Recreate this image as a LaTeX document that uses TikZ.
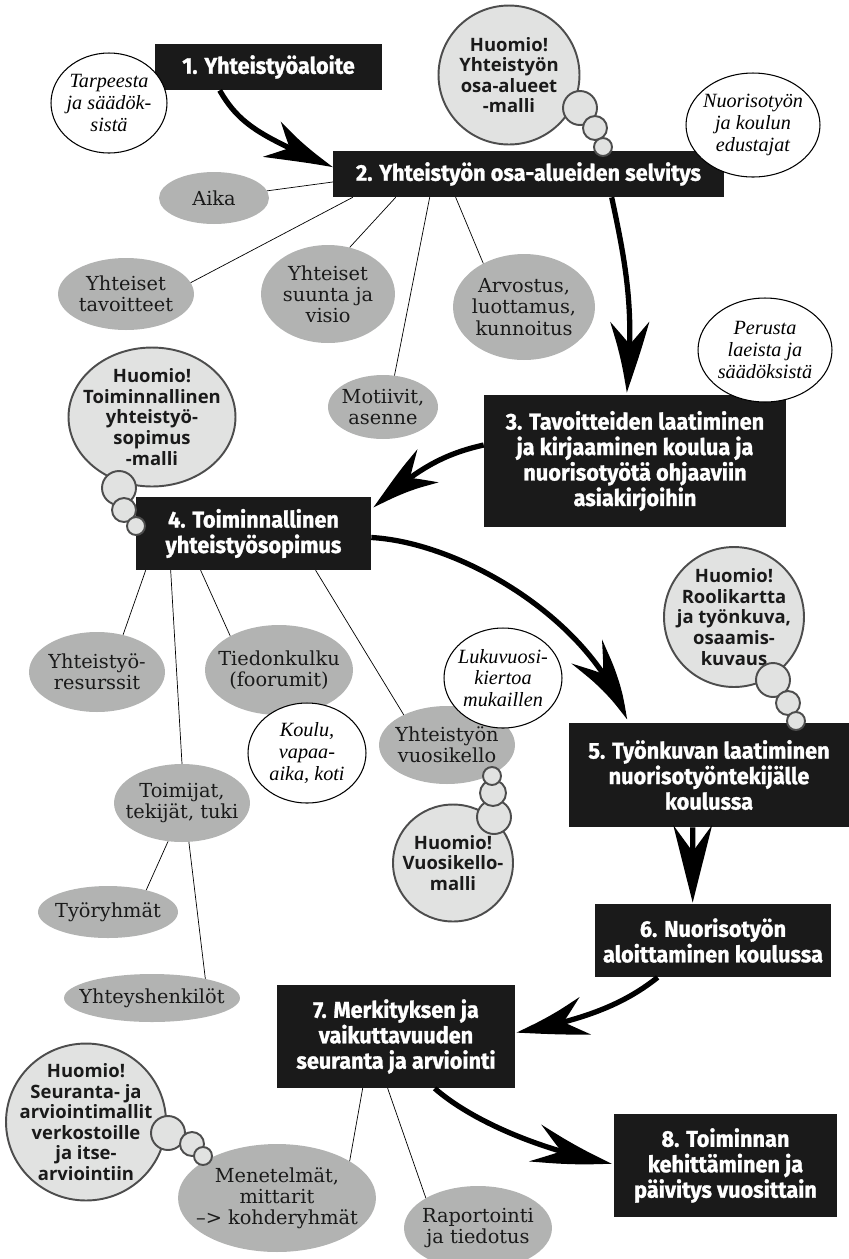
\documentclass[tikz,border=0pt]{standalone}
\usepackage{fontspec}
\setmainfont{DejaVu Serif}
\newfontfamily\boxfont{Fira Sans}[FakeStretch=0.95,FakeBold=1.2]
\newfontfamily\notefont{Liberation Serif}
\newfontfamily\huofont{Open Sans}
\usetikzlibrary{shapes.geometric,arrows.meta,bending,calc}
\definecolor{boxblack}{HTML}{1A1A1A}
\definecolor{ovalgrey}{HTML}{B2B3B2}
\definecolor{huofill}{HTML}{E1E2E1}
\definecolor{huoline}{HTML}{4D4D4D}
\begin{document}
\begin{tikzpicture}[x=0.02cm,y=-0.02cm,line join=round,line cap=round]
\tikzset{vaihe/.style={fill=boxblack,text=white,align=center,inner sep=0pt,font=\boxfont\bfseries\fontsize{13}{14.5}\selectfont},
	osa/.style={ellipse,fill=ovalgrey,text=boxblack,align=center,inner sep=-25pt,font=\fontsize{11}{12}\selectfont},
	huom/.style={ellipse,draw=black,line width=0.6pt,fill=white,align=center,inner sep=-25pt,font=\notefont\itshape\fontsize{11.5}{12.3}\selectfont},
	ajatus/.style={ellipse,draw=huoline,line width=1.1pt,fill=huofill,text=boxblack,align=center,inner sep=-25pt,font=\huofont\bfseries\fontsize{10.5}{11.7}\selectfont},
	pallo/.style={circle,draw=huoline,line width=1.1pt,fill=huofill,inner sep=0pt},
	nuoli/.style={line width=3pt,line cap=butt,-{Stealth[length=44pt,width=22pt,inset=15pt,bend]}}}
\useasboundingbox (0,0) rectangle (849,1259);
\node[vaihe,minimum width=4.54cm,minimum height=0.92cm] (v1) at (268.5,67) {1. Yhteistyöaloite};
\node[vaihe,minimum width=7.82cm,minimum height=0.92cm] (v2) at (528.5,174) {2. Yhteistyön osa-alueiden selvitys};
\node[vaihe,minimum width=6.04cm,minimum height=2.64cm] (v3) at (635,461) {3. Tavoitteiden laatiminen\\ja kirjaaminen koulua ja\\nuorisotyötä ohjaaviin\\asiakirjoihin};
\node[vaihe,minimum width=4.70cm,minimum height=1.46cm] (v4) at (253.5,533.5) {4. Toiminnallinen\\yhteistyösopimus};
\node[vaihe,minimum width=5.60cm,minimum height=2.08cm] (v5) at (709,775) {5. Työnkuvan laatiminen\\nuorisotyöntekijälle\\koulussa};
\node[vaihe,minimum width=4.72cm,minimum height=1.46cm] (v6) at (713,940.5) {6. Nuorisotyön\\aloittaminen koulussa};
\node[vaihe,minimum width=4.76cm,minimum height=2.06cm] (v7) at (396,1036.5) {7. Merkityksen ja\\vaikuttavuuden\\seuranta ja arviointi};
\node[vaihe,minimum width=4.46cm,minimum height=2.06cm] (v8) at (725.5,1165.5) {8. Toiminnan\\kehittäminen ja\\päivitys vuosittain};
\foreach \n/\x/\y/\w/\h/\t in {aika/214/198/2.2/1.04/Aika,tav/126/294/2.72/1.44/{Yhteiset\\tavoitteet},
	suunta/328/294/2.68/1.96/{Yhteiset\\suunta ja\\visio},arv/524/307/2.84/2.12/{Arvostus,\\luottamus,\\kunnoitus},
	mot/383/407/2.2/1.28/{Motiivit,\\asenne},res/97/672/2.72/1.6/{Yhteistyö-\\resurssit},
	tied/279/670/2.96/1.8/{Tiedonkulku\\(foorumit)},toim/182/803/2.72/1.56/{Toimijat,\\tekijät, tuki},
	tyo/108/912/2.8/1.04/Työryhmät,yht/152/998/3.52/0.96/Yhteyshenkilöt,
	kello/447/745/2.72/1.56/{Yhteistyön\\vuosikello},men/277/1198/3.96/2.16/{Menetelmät,\\mittarit\\–> kohderyhmät},
	rap/478/1228/2.96/1.68/{Raportointi\\ja tiedotus}}
\node[osa,minimum width=\w cm,minimum height=\h cm] (\n) at (\x,\y) {\t};
\foreach \n/\x/\y/\w/\h/\t in {tarve/109/103/2.32/2.0/{Tarpeesta\\ja säädök-\\sistä},edus/753/125/2.68/2.08/{Nuorisotyön\\ja koulun\\edustajat},
	peru/765/350/2.68/2.08/{Perusta\\laeista ja\\säädöksistä},koulu/307/753/2.36/2.0/{Koulu,\\vapaa-\\aika, koti},
	luku/503/678/2.36/2.0/{Lukuvuosi-\\kiertoa\\mukaillen}}
\node[huom,minimum width=\w cm,minimum height=\h cm] (\n) at (\x,\y) {\t};
\draw (v2.west) ++(0,8) -- (aika);
\draw (v2.south west) ++(20,0) -- (tav.10);
\draw (v2.south west) ++(63,0) -- (suunta.65);
\draw (v2.south west) ++(97,0) -- (mot.70);
\draw (v2.south west) ++(123,0) -- (arv.133);
\draw (v4.south west) ++(10,0) -- (res.55);
\draw (v4.south west) ++(35,0) -- (toim.north);
\draw (v4.south west) ++(65,0) -- (tied.145);
\draw (v4.south west) ++(180,0) -- (kello.145);
\draw (toim.250) -- (tyo.30);
\draw (toim.280) -- (yht.20);
\draw (v7.south west) ++(86,0) -- (men.27);
\draw (v7.south west) ++(111,0) -- (rap.150);
\draw[nuoli] ($(v1.south west)+(65,0)$) .. controls +(20,35) and +(-70,-30) .. ($(v2.west)+(0,-7)$);
\draw[nuoli] ($(v2.south west)+(279,0)$) .. controls +(15,70) and +(8,-80) .. ($(v3.north west)+(143,-2)$);
\draw[nuoli] ($(v3.west)+(0,-16)$) .. controls +(-45,10) and +(40,-35) .. ($(v4.north east)+(2,11)$);
\draw[nuoli] ($(v4.east)+(0,4)$) .. controls +(90,5) and +(-35,-100) .. ($(v5.north west)+(58,-3)$);
\draw[nuoli] ($(v5.south west)+(124,0)$) -- ($(v6.north west)+(98,-1)$);
\draw[nuoli] ($(v6.south west)+(63,0)$) .. controls +(-35,28) and +(65,-12) .. ($(v7.east)+(1,-4)$);
\draw[nuoli] ($(v7.south west)+(158,0)$) .. controls +(40,35) and +(-65,-12) .. ($(v8.west)+(-2,-2)$);
\node[ajatus,minimum width=2.82cm,minimum height=2.78cm] (h1) at (509,75) {Huomio!\\Yhteistyön\\osa-alueet\\-malli};
\node[ajatus,minimum width=3.34cm,minimum height=2.78cm] (h2) at (152,417) {Huomio!\\Toiminnallinen\\yhteistyö-\\sopimus\\-malli};
\node[ajatus,minimum width=2.8cm,minimum height=2.8cm] (h3) at (734,617) {Huomio!\\Roolikartta\\ja työnkuva,\\osaamis-\\kuvaus};
\node[ajatus,minimum width=2.4cm,minimum height=2.34cm] (h4) at (453,863) {Huomio!\\Vuosikello-\\malli};
\node[ajatus,minimum width=3.2cm,minimum height=3.14cm] (h5) at (86,1122) {Huomio!\\Seuranta- ja\\arviointimallit\\verkostoille\\ja itse-\\arviointiin};
\foreach \n/\x/\y/\d in {h1a/580/108/0.68,h1b/595/128/0.48,h1c/603/147/0.36,
	h2a/119/488/0.68,h2b/124/510/0.48,h2c/136/526/0.36,
	h3a/773/680/0.68,h3b/788/703/0.48,h3c/796/721/0.36,
	h4a/494/817/0.68,h4b/493/793/0.52,h4c/492/776/0.36,
	h5a/168/1133/0.68,h5b/192/1144/0.48,h5c/203/1156/0.36}
\node[pallo,minimum size=\d cm] (\n) at (\x,\y) {};
\end{tikzpicture}
\end{document}
